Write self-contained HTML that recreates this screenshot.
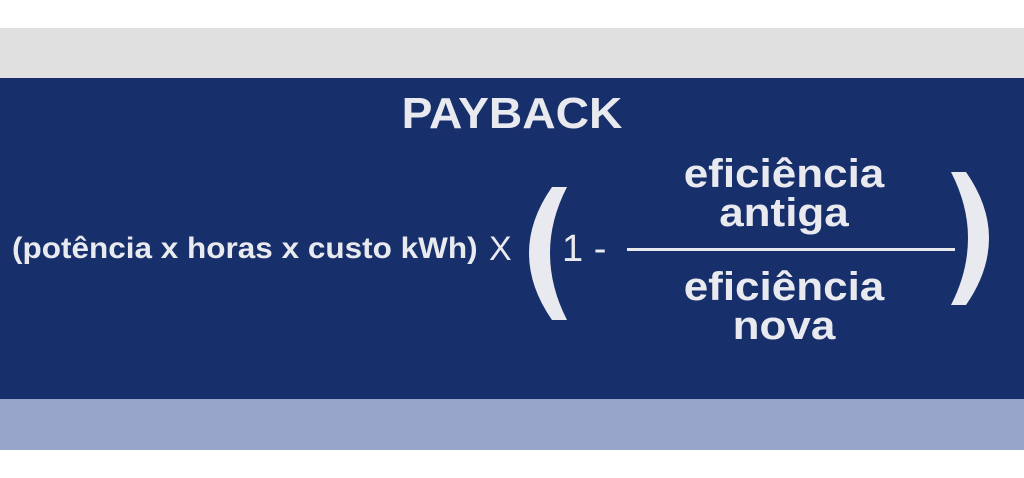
<!DOCTYPE html>
<html><head><meta charset="utf-8"><style>
body{margin:0;width:1024px;height:478px;background:#fff;position:relative;overflow:hidden;font-family:"Liberation Sans",sans-serif;color:#e9eaef}
.b{position:absolute;left:0;width:1024px}
.t{position:absolute;white-space:nowrap;font-weight:bold}
.c{left:634px;width:300px;text-align:center;font-size:40px;transform:scaleX(1.1);transform-origin:150px 0}
</style></head><body>
<div class="b" style="top:28px;height:50px;background:#e0e0e0"></div>
<div class="b" style="top:78px;height:321px;background:#172f6b"></div>
<div class="b" style="top:399px;height:51px;background:#96a5c9"></div>
<div class="t" style="left:0;width:1024px;text-align:center;top:89px;font-size:44px;transform:scaleX(1.05)">PAYBACK</div>
<div class="t" style="left:12px;top:232px;font-size:30px;transform:scaleX(1.05);transform-origin:0 0">(potência x horas x custo kWh)</div>
<div class="t" style="left:489px;top:230px;font-size:34px;font-weight:normal">X</div>
<div class="t" style="left:562px;top:228px;font-size:38px;font-weight:normal">1 -</div>
<div class="t c" style="top:152px">eficiência</div>
<div class="t c" style="top:191px">antiga</div>
<div class="t c" style="top:265px">eficiência</div>
<div class="t c" style="top:304px">nova</div>
<div style="position:absolute;left:627px;top:248px;width:328px;height:3px;background:#e9eaef"></div>
<svg style="position:absolute;left:0;top:0" width="1024" height="478">
<path d="M567,187 L552,187 Q529,220 529,253 Q529,287 552,320 L567,320 Q550,287 550,253 Q550,220 567,187Z" fill="#e9eaef"/>
<path d="M951,172 L966,172 Q989,205 989,238 Q989,272 966,305 L951,305 Q968,272 968,238 Q968,205 951,172Z" fill="#e9eaef"/>
</svg>
</body></html>
